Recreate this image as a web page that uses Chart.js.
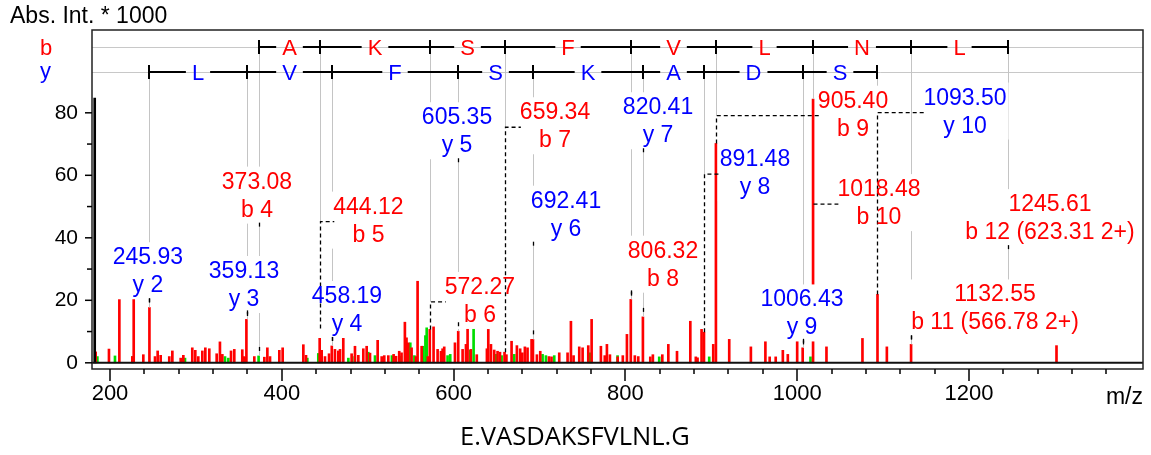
<!DOCTYPE html>
<html>
<head>
<meta charset="utf-8">
<title>E.VASDAKSFVLNL.G</title>
<script src="https://cdn.jsdelivr.net/npm/chart.js@4.4.1/dist/chart.umd.min.js"></script>
<style>
  html, body { margin: 0; padding: 0; background: #fff; }
  #wrap { width: 1151px; height: 455px; }
</style>
</head>
<body>
<div id="wrap"><canvas id="spectrum" width="1151" height="455"></canvas></div>
<script>
// Peak list (m/z, Abs. Int. * 1000), red peaks
const redMz = [183.3, 198.8, 210.9, 226.0, 227.6, 238.8, 245.9, 252.4, 255.5, 259.0, 269.0, 272.6, 282.3, 285.4, 295.8, 299.3, 302.8, 307.5, 311.0, 315.6,
  324.2, 328.0, 330.8, 340.9, 344.7, 354.0, 355.5, 357.0, 358.8, 368.0, 379.7, 383.2, 386.3, 397.1, 401.0, 425.1, 428.2, 444.1, 446.4, 450.3,
  455.0, 458.2, 461.9, 465.8, 467.8, 471.6, 481.3, 485.2, 489.1, 494.9, 498.8, 502.7, 511.6, 516.3, 519.3, 524.0, 530.2, 533.0, 536.7, 539.4,
  543.3, 545.2, 547.2, 551.1, 556.2, 558.1, 562.8, 570.0, 572.3, 576.7, 581.4, 585.3, 587.2, 589.1, 601.6, 605.4, 610.5, 614.4, 616.3, 620.0,
  627.0, 638.8, 640.4, 643.5, 647.3, 651.2, 654.0, 659.3, 661.5, 667.5, 673.7, 677.5, 680.0, 683.0, 686.1, 690.8, 692.4, 697.0, 700.9, 711.0,
  714.0, 723.0, 732.7, 736.6, 739.7, 746.3, 750.2, 756.8, 760.7, 771.5, 776.0, 778.5, 782.0, 791.0, 797.0, 801.8, 806.3, 811.0, 815.0, 820.4,
  829.0, 832.0, 843.0, 850.0, 860.1, 875.6, 882.0, 884.0, 888.7, 891.5, 902.3, 905.4, 920.9, 946.1, 963.0, 968.0, 975.0, 983.3, 989.1, 1000.0,
  1006.4, 1018.5, 1034.1, 1076.0, 1093.5, 1104.4, 1132.6, 1301.9];
const redInt = [3.5, 4.4, 20.3, 2.0, 20.6, 2.6, 17.7, 2.0, 3.8, 2.4, 2.0, 3.8, 1.5, 2.4, 4.8, 4.0, 2.0, 3.8, 4.8, 4.5,
  2.9, 6.7, 2.7, 3.8, 4.3, 4.2, 2.0, 1.8, 13.9, 2.0, 1.8, 4.8, 2.0, 4.0, 4.8, 5.8, 2.4, 11.0, 4.0, 2.0,
  2.9, 5.4, 4.3, 3.8, 4.3, 8.1, 2.9, 5.3, 2.4, 4.5, 5.3, 3.1, 7.2, 2.0, 2.3, 2.3, 2.7, 2.1, 3.7, 3.2,
  13.0, 8.0, 6.4, 4.8, 2.0, 26.1, 5.3, 2.0, 10.7, 11.5, 4.3, 3.7, 4.5, 5.1, 6.4, 10.1, 4.3, 5.9, 10.9, 4.3,
  2.6, 4.5, 10.7, 5.9, 4.1, 3.7, 3.4, 3.4, 2.6, 6.9, 5.5, 4.5, 3.2, 5.1, 4.8, 7.5, 7.5, 2.6, 3.7, 2.0,
  1.9, 3.2, 3.2, 13.3, 2.3, 5.1, 4.8, 5.5, 13.9, 5.3, 2.3, 5.9, 2.6, 1.9, 2.3, 9.1, 20.3, 2.3, 2.0, 14.7,
  1.9, 2.6, 2.6, 5.9, 3.7, 13.3, 1.9, 1.6, 10.7, 9.8, 5.9, 70.2, 7.5, 5.1, 16.2, 1.9, 1.9, 4.0, 2.7, 7.5,
  4.8, 84.4, 5.1, 7.8, 21.9, 5.1, 5.9, 5.5];

// green peaks
const greenMz = [185.3, 205.8, 226.0, 287.3, 333.9, 337.8, 373.0, 429.7, 442.5, 477.5, 482.1, 500.7, 508.5, 528.2, 529.8, 538.7, 549.6, 554.4,
  564.1, 567.2, 568.7, 593.0, 596.1, 619.5, 623.3, 649.3, 655.9, 670.6, 703.6, 707.5, 717.2, 759.1, 790.9, 839.4, 897.6, 1015.5];
const greenInt = [2.0, 2.2, 2.0, 1.5, 2.0, 1.5, 2.2, 1.5, 3.0, 1.5, 2.0, 3.4, 2.3, 2.3, 2.0, 2.1, 6.4, 2.3,
  5.3, 8.7, 11.2, 2.3, 2.7, 4.0, 10.9, 2.7, 2.3, 2.7, 2.7, 2.3, 2.3, 3.2, 2.3, 1.9, 1.9, 1.9];

// off-scale peak at the left edge
const cutMz = [182.2];
const cutInt = [84.7];

// annotated fragment ions
const ionMz = [245.93, 359.13, 373.08, 444.12, 458.19, 572.27, 605.35, 659.34, 692.41,
  806.32, 820.41, 891.48, 905.40, 1006.43, 1018.48, 1093.50, 1132.55, 1245.61];
const ionName = ['y 2', 'y 3', 'b 4', 'b 5', 'y 4', 'b 6', 'y 5', 'b 7', 'y 6',
  'b 8', 'y 7', 'y 8', 'b 9', 'y 9', 'b 10', 'y 10', 'b 11 (566.78 2+)', 'b 12 (623.31 2+)'];
// intensity where each leader line ends
const ionPeak = [17.7, 13.9, 2.2, 11.0, 5.4, 10.7, 10.1, 3.4, 7.5,
  20.3, 14.7, 9.8, 70.2, 4.8, 84.4, 21.9, 5.9, 26.5];
// where each label sits (centre m/z, intensity of the first text line)
const labelMz = [244.2, 356.0, 371.1, 500.9, 475.9, 630.7, 604.0, 718.1, 730.9,
  843.8, 838.0, 950.9, 1065.0, 1005.6, 1095.2, 1195.4, 1230.3, 1294.3];
const labelInt = [34.1, 29.7, 58.3, 50.3, 21.7, 24.6, 78.9, 80.5, 52.2,
  36.2, 82.1, 65.5, 84.2, 20.6, 55.9, 85.2, 22.2, 51.1];

// sequence ladders
const bResidues = ['A', 'K', 'S', 'F', 'V', 'L', 'N', 'L'];
const yResidues = ['L', 'V', 'F', 'S', 'K', 'A', 'D', 'S'];
const LADDER_B_INT = 101.1;
const LADDER_Y_INT = 93.2;

// axis ticks
const xTickValues = [200, 240, 280, 320, 360, 400, 440, 480, 520, 560, 600, 640, 680, 720, 760, 800, 840, 880, 920, 960,
  1000, 1040, 1080, 1120, 1160, 1200, 1240, 1280, 1320, 1360];
const yTickValues = [0, 10, 20, 30, 40, 50, 60, 70, 80];

const RED = '#ff0000';
const BLUE = '#0000ff';
const GREEN = '#00dd00';
const FONT = 'Arial, "Liberation Sans", Helvetica, sans-serif';
const LABEL_FONT = '23px ' + FONT;
const LADDER_FONT = '22px ' + FONT;
const LINE_GAP = 28;

function line(ctx, x1, y1, x2, y2) {
  ctx.beginPath();
  ctx.moveTo(x1, y1);
  ctx.lineTo(x2, y2);
  ctx.stroke();
}

function drawLadder(ctx, xs, row, mzs, residues, color) {
  const r = Math.round(row);
  const px = mzs.map(m => Math.round(xs.getPixelForValue(m)));
  ctx.font = LADDER_FONT;
  ctx.textAlign = 'center';
  ctx.textBaseline = 'alphabetic';
  ctx.strokeStyle = '#000';
  ctx.lineWidth = 2;
  px.forEach(p => line(ctx, p, r - 7, p, r + 7));
  residues.forEach((res, i) => {
    const mid = (px[i] + px[i + 1]) / 2;
    const half = ctx.measureText(res).width / 2 + 6;
    line(ctx, px[i], r, mid - half, r);
    line(ctx, mid + half, r, px[i + 1], r);
    ctx.fillStyle = color;
    ctx.fillText(res, mid, r + 8);
  });
}

const spectrumDecor = {
  id: 'spectrumDecor',
  afterDatasetsDraw(chart) {
    const { ctx, chartArea: a } = chart;
    const xs = chart.scales.x, ys = chart.scales.y;
    const rowB = ys.getPixelForValue(LADDER_B_INT);
    const rowY = ys.getPixelForValue(LADDER_Y_INT);
    const zero = ys.getPixelForValue(0);
    ctx.save();

    // zero line
    ctx.strokeStyle = '#111';
    ctx.lineWidth = 2;
    line(ctx, a.left, zero, a.right, zero);

    // guide rows for the ladders
    ctx.strokeStyle = '#c8c8c8';
    ctx.lineWidth = 1;
    line(ctx, a.left, Math.round(rowB) + 0.5, a.right, Math.round(rowB) + 0.5);
    line(ctx, a.left, Math.round(rowY) + 0.5, a.right, Math.round(rowY) + 0.5);

    // label geometry
    ctx.font = LABEL_FONT;
    const ions = ionMz.map((mz, i) => {
      const px = Math.round(xs.getPixelForValue(mz));
      const top = ys.getPixelForValue(ionPeak[i]);
      const cx = xs.getPixelForValue(labelMz[i]);
      const vy = ys.getPixelForValue(labelInt[i]);
      const text = mz.toFixed(2);
      const w = Math.max(ctx.measureText(text).width, ctx.measureText(ionName[i]).width);
      const left = cx - w / 2, right = cx + w / 2;
      const box = { l: left - 2, r: right + 2, t: vy - 14, b: vy + LINE_GAP + 15 };
      let leader = 'above';
      if (left > px + 3) leader = top < vy ? 'side' : 'elbow';
      return { mz, px, top, cx, vy, text, left, box, leader, name: ionName[i], type: ionName[i][0] };
    });

    // grey lines from the ladder ticks down to the peaks
    ctx.strokeStyle = '#c4c4c4';
    ctx.lineWidth = 1;
    ions.forEach(o => {
      const from = o.type === 'b' ? rowB : rowY;
      const to = o.leader === 'elbow' ? o.vy + 16 : o.top;
      line(ctx, o.px + 0.5, from, o.px + 0.5, to);
    });

    // white boxes under the labels
    ctx.fillStyle = '#fff';
    ions.forEach(o => ctx.fillRect(o.box.l, o.box.t, o.box.r - o.box.l, o.box.b - o.box.t));

    drawLadder(ctx, xs, rowB, ions.filter(o => o.type === 'b').map(o => o.mz), bResidues, RED);
    drawLadder(ctx, xs, rowY, ions.filter(o => o.type === 'y').map(o => o.mz), yResidues, BLUE);

    // dashed leaders
    ctx.strokeStyle = '#000';
    ctx.lineWidth = 1.3;
    ctx.setLineDash([4, 3]);
    ions.forEach(o => {
      const x0 = o.px + 0.5;
      const cy = o.vy + 16;
      if (o.leader === 'elbow') {
        ctx.beginPath();
        ctx.moveTo(x0, o.top);
        ctx.lineTo(x0, cy);
        ctx.lineTo(o.left + 1, cy);
        ctx.stroke();
      } else if (o.leader === 'side') {
        line(ctx, x0, cy, o.left + 1, cy);
      } else {
        if (o.px >= o.box.l && o.px <= o.box.r && o.box.b < o.top) {
          line(ctx, x0, o.vy + LINE_GAP + 14, x0, o.vy + LINE_GAP + 19);
        }
        const hidden = ions.some(p => p !== o && o.px >= p.box.l && o.px <= p.box.r &&
          o.top >= p.box.t && o.top <= p.box.b);
        if (!hidden) line(ctx, x0, o.top - 9, x0, o.top - 2);
      }
    });
    ctx.setLineDash([]);

    // label text
    ctx.font = LABEL_FONT;
    ctx.textAlign = 'center';
    ctx.textBaseline = 'alphabetic';
    ions.forEach(o => {
      ctx.fillStyle = o.type === 'b' ? RED : BLUE;
      ctx.fillText(o.text, o.cx, o.vy + 8);
      ctx.fillText(o.name, o.cx, o.vy + LINE_GAP + 8);
    });
    ctx.restore();
  },
  afterDraw(chart) {
    const { ctx, chartArea: a } = chart;
    const xs = chart.scales.x, ys = chart.scales.y;
    ctx.save();

    // frame
    ctx.strokeStyle = '#222';
    ctx.lineWidth = 1.5;
    ctx.strokeRect(a.left, a.top, a.right - a.left, a.bottom - a.top);

    // tick marks
    ctx.strokeStyle = '#000';
    ctx.lineWidth = 1.5;
    xs.ticks.forEach(t => {
      const p = Math.round(xs.getPixelForValue(t.value));
      line(ctx, p, a.bottom, p, a.bottom + (t.value % 200 === 0 ? 12 : 5));
    });
    ys.ticks.forEach(t => {
      const p = ys.getPixelForValue(t.value);
      line(ctx, a.left - (t.value % 20 === 0 ? 7 : 5), p, a.left, p);
    });

    // axis titles
    ctx.fillStyle = '#000';
    ctx.font = '23px ' + FONT;
    ctx.textBaseline = 'alphabetic';
    ctx.textAlign = 'left';
    ctx.fillText('Abs. Int. * 1000', 10, 23);
    ctx.textAlign = 'right';
    ctx.fillText('m/z', a.right, 404);

    // ladder row names
    ctx.font = LADDER_FONT;
    ctx.textAlign = 'left';
    ctx.fillStyle = RED;
    ctx.fillText('b', 40, Math.round(ys.getPixelForValue(LADDER_B_INT)) + 8);
    ctx.fillStyle = BLUE;
    ctx.fillText('y', 40, Math.round(ys.getPixelForValue(LADDER_Y_INT)) + 6);

    // peptide sequence
    ctx.fillStyle = '#000';
    ctx.font = '25.5px "Open Sans", sans-serif';
    ctx.fillText('E.VASDAKSFVLNL.G', 460, 445);
    ctx.restore();
  }
};

const toPoints = (xsArr, ysArr) => xsArr.map((m, i) => ({ x: m, y: ysArr[i] }));

new Chart(document.getElementById('spectrum'), {
  type: 'bar',
  data: {
    datasets: [
      { label: 'off-scale', data: toPoints(cutMz, cutInt), backgroundColor: '#000', barThickness: 2, grouped: false },
      { label: 'peaks', data: toPoints(redMz, redInt), backgroundColor: RED, barThickness: 2, grouped: false },
      { label: 'other', data: toPoints(greenMz, greenInt), backgroundColor: GREEN, barThickness: 2, grouped: false }
    ]
  },
  options: {
    responsive: false,
    animation: false,
    devicePixelRatio: 1,
    layout: { padding: { top: 30, right: 8, left: 0, bottom: 0 } },
    plugins: { legend: { display: false }, tooltip: { enabled: false } },
    scales: {
      x: {
        type: 'linear',
        min: 179.05,
        max: 1402.6,
        offset: false,
        grid: { display: false, drawTicks: false, offset: false },
        border: { display: false },
        afterBuildTicks: s => { s.ticks = xTickValues.map(v => ({ value: v })); },
        afterFit: s => { s.height = 86; },
        ticks: {
          autoSkip: false,
          maxRotation: 0,
          padding: 12,
          color: '#000',
          font: { family: FONT, size: 22 },
          callback: v => (v % 200 === 0 ? String(v) : '')
        }
      },
      y: {
        min: -1.98,
        max: 106.5,
        grid: { display: false, drawTicks: false },
        border: { display: false },
        afterBuildTicks: s => { s.ticks = yTickValues.map(v => ({ value: v })); },
        afterFit: s => { s.width = 92; },
        ticks: {
          autoSkip: false,
          padding: 14,
          color: '#000',
          font: { family: FONT, size: 21 },
          callback: v => (v % 20 === 0 ? String(v) : '')
        }
      }
    }
  },
  plugins: [spectrumDecor]
});
</script>
</body>
</html>
